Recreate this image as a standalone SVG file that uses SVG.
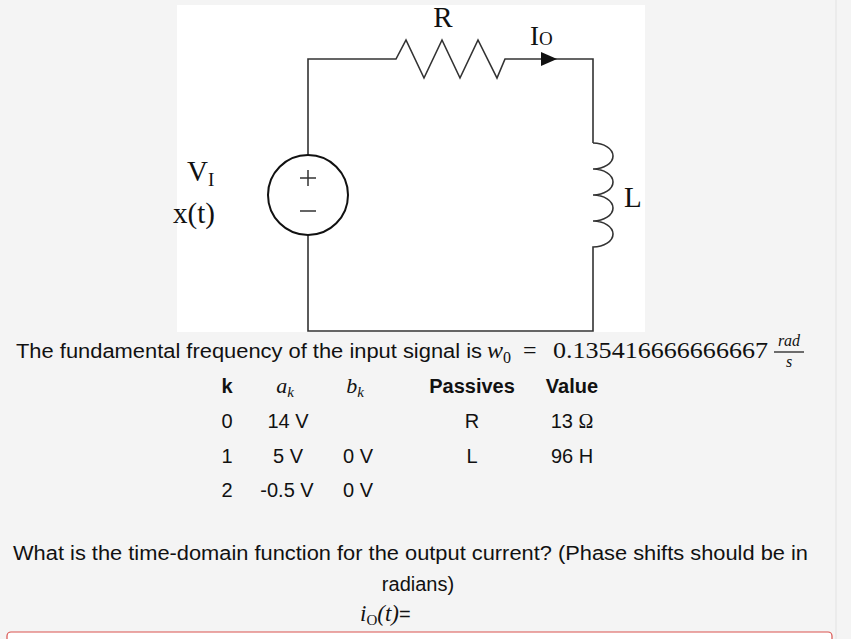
<svg xmlns="http://www.w3.org/2000/svg" width="851" height="639" viewBox="0 0 851 639">
<style>
.w{fill:none;stroke:#333;stroke-width:1.6}
.m{font-family:"Liberation Serif",serif;fill:#111}
.s{font-family:"Liberation Sans",Arial,sans-serif;font-size:20px;fill:#111}
.b{font-weight:bold}
</style>
<rect width="851" height="639" fill="#f4f4f4"/>
<line x1="836" y1="0" x2="836" y2="639" stroke="#e2e2e2"/>
<rect x="177" y="5" width="468" height="327" fill="#fff"/>
<g id="circuit">
<path class="w" d="M308,155 V59 H396 L406,40 L424,78 L442,40 L460,78 L478,40 L497,78 L505,59 H593 V143"/>
<path class="w" d="M593,143 a20,13 0 0 1 0,26 a20,13 0 0 1 0,26 a20,13 0 0 1 0,26 a20,13 0 0 1 0,26 V331 H308 V235"/>
<polygon points="541,52 557,59 541,66" fill="#111"/>
<g id="source"><circle cx="308" cy="195" r="40" fill="#fff" stroke="#111" stroke-width="2"/>
<path d="M300,178 h16 M308,170 v16 M300,211 h16" stroke="#333" stroke-width="1.5"/></g>
<text class="m" x="443" y="27" font-size="29" text-anchor="middle">R</text>
<text class="m" x="530" y="45" font-size="27">I<tspan font-size="19">O</tspan></text>
<text class="m" x="187" y="181" font-size="29">V<tspan font-size="19" dy="5">I</tspan></text>
<text class="m" x="173" y="223" font-size="29">x(t)</text>
<text class="m" x="624" y="207" font-size="29">L</text>
</g>
<g id="text">
<text class="s" x="16" y="358" textLength="466" lengthAdjust="spacingAndGlyphs">The fundamental frequency of the input signal is</text>
<text class="m" x="487" y="358" font-size="24" font-style="italic">w<tspan font-size="16" dy="5" font-style="normal">0</tspan></text>
<text class="m" x="523" y="358" font-size="24">=</text>
<text class="m" x="553" y="358" font-size="24" textLength="215" lengthAdjust="spacingAndGlyphs">0.135416666666667</text>
<text class="m" x="789" y="346" font-size="16" font-style="italic" text-anchor="middle">rad</text>
<line x1="774" y1="352" x2="804" y2="352" stroke="#111" stroke-width="1.2"/>
<text class="m" x="789" y="367" font-size="16" font-style="italic" text-anchor="middle">s</text>
<g text-anchor="middle">
<text class="s b" x="227" y="393">k</text>
<text class="m" x="285" y="393" font-size="22" font-style="italic">a<tspan font-size="15" dy="4">k</tspan></text>
<text class="m" x="355" y="393" font-size="22" font-style="italic">b<tspan font-size="15" dy="4">k</tspan></text>
<text class="s b" x="472" y="393">Passives</text>
<text class="s b" x="572" y="393">Value</text>
<text class="s" x="227" y="428">0</text><text class="s" x="288" y="428">14 V</text>
<text class="s" x="472" y="428">R</text><text class="s" x="572" y="428">13 <tspan class="m">Ω</tspan></text>
<text class="s" x="227" y="463">1</text><text class="s" x="288" y="463">5 V</text><text class="s" x="358" y="463">0 V</text>
<text class="s" x="472" y="463">L</text><text class="s" x="572" y="463">96 H</text>
<text class="s" x="227" y="497">2</text><text class="s" x="287" y="497">-0.5 V</text><text class="s" x="358" y="497">0 V</text>
</g>
<text class="s" x="13" y="560" textLength="795" lengthAdjust="spacingAndGlyphs">What is the time-domain function for the output current? (Phase shifts should be in</text>
<text class="s" x="418" y="591" text-anchor="middle">radians)</text>
<text class="m" x="360" y="621" font-size="23" font-style="italic">i<tspan font-size="15" dy="4" font-style="normal">O</tspan><tspan dy="-4">(t)</tspan><tspan class="s" font-style="normal">=</tspan></text>
</g>
<rect x="7" y="632" width="825" height="20" rx="4" fill="#fff" stroke="#d9534f" stroke-width="1.2"/>
</svg>
